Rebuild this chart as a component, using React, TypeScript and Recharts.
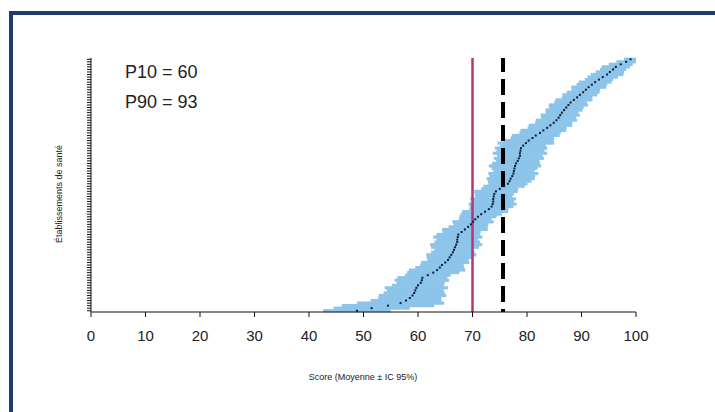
import {
  ComposedChart,
  Bar,
  Line,
  XAxis,
  YAxis,
  ReferenceLine,
} from 'recharts'

// establishments sorted by score, lowest first
const means = [
  48.8, 51.5, 54.5, 56.8, 57.8, 58.5, 59.0, 59.3, 59.5, 59.7,
  60.0, 60.5, 60.7, 60.8, 61.8, 62.8, 63.5, 64.0, 64.4, 65.0,
  65.5, 65.8, 66.1, 66.4, 66.6, 66.8, 67.0, 67.2, 67.2, 67.3,
  67.4, 68.0, 68.6, 69.2, 69.7, 70.1, 70.5, 71.0, 71.6, 72.3,
  73.0, 73.5, 73.7, 73.8, 73.8, 73.9, 74.0, 74.3, 75.0, 75.8,
  76.5, 76.8, 77.0, 77.3, 77.5, 77.6, 77.7, 77.8, 78.0, 78.3,
  78.5, 78.7, 78.7, 78.8, 78.9, 79.3, 79.8, 80.3, 81.0, 81.6,
  82.4, 83.0, 83.7, 84.3, 84.9, 85.4, 85.8, 86.1, 86.4, 86.8,
  87.2, 87.6, 88.0, 88.6, 89.2, 89.7, 90.3, 90.8, 91.3, 91.9,
  92.5, 93.2, 93.9, 94.7, 95.2, 95.8, 96.3, 97.2, 98.2, 99.0,
]

// half width of the 95% CI
const halfCI = [
  6.2, 7.0, 8.5, 8.0, 6.5, 5.8, 6.2, 5.6, 5.2, 5.8,
  4.8, 4.4, 5.0, 4.6, 4.2, 4.8, 5.2, 4.5, 4.0, 4.4,
  3.8, 4.2, 4.6, 4.0, 3.6, 4.4, 4.8, 4.2, 3.8, 4.5,
  4.0, 3.5, 4.2, 3.6, 3.2, 3.8, 3.0, 3.4, 3.8, 4.2,
  3.6, 4.0, 4.4, 3.8, 4.2, 3.4, 3.6, 4.0, 3.4, 3.8,
  3.6, 4.0, 4.4, 4.2, 4.6, 3.8, 4.2, 4.8, 4.4, 4.0,
  4.6, 4.2, 5.0, 4.4, 4.8, 4.2, 5.2, 4.6, 4.0, 4.4,
  3.8, 4.2, 3.6, 4.0, 3.4, 3.8, 3.2, 3.6, 3.0, 3.4,
  3.2, 3.6, 3.0, 3.4, 2.8, 3.2, 3.0, 2.6, 3.2, 2.8,
  3.0, 2.6, 2.8, 3.0, 2.6, 2.4, 2.6, 2.2, 1.8, 1.2,
]

const xTicks = [0, 10, 20, 30, 40, 50, 60, 70, 80, 90, 100]
const threshold = 70
const overallMean = 75.6

const data = means.map((m, i) => ({
  rank: i + 1,
  mean: m,
  ci: [m - halfCI[i], m + halfCI[i]],
}))

const font = '"Liberation Sans", Arial, sans-serif'

const MeanMark = (props: any) => {
  const { cx, cy } = props
  if (cx == null || cy == null) return null
  return <rect x={cx - 1} y={cy - 1} width={2} height={2} fill="#0e1c3c" />
}

// CI bar, a little thicker than its band so rows merge into one strip
const CiBar = (props: any) => {
  const { x, y, width, height } = props
  if (x == null || y == null) return null
  const mid = y + height / 2
  return <rect x={x} y={mid - 1.6} width={width} height={3.2} fill="#8dc4ea" />
}

export default function App() {
  return (
    <div
      style={{
        position: 'absolute',
        left: 0,
        top: 0,
        width: 715,
        height: 412,
        background: '#fff',
        overflow: 'hidden',
        fontFamily: font,
      }}
    >
      <div style={{ position: 'absolute', left: 9, top: 11, width: 706, height: 4, background: '#1f3d6b' }} />
      <div style={{ position: 'absolute', left: 9, top: 11, width: 4, height: 401, background: '#1f3d6b' }} />

      <div style={{ position: 'absolute', left: 0, top: 0 }}>
        <ComposedChart
          width={715}
          height={412}
          data={data}
          layout="vertical"
          margin={{ top: 58, right: 79, bottom: 70, left: 71 }}
        >
          <XAxis
            type="number"
            domain={[0, 100]}
            ticks={xTicks}
            allowDataOverflow
            height={30}
            stroke="#111"
            tickSize={5}
            tickMargin={13}
            tick={{ fill: '#222', fontSize: 15, fontFamily: font }}
          />
          <YAxis
            type="category"
            dataKey="rank"
            reversed
            interval={0}
            width={20}
            stroke="#111"
            tickSize={4}
            tickFormatter={() => ''}
          />
          <Bar dataKey="ci" fill="#8dc4ea" shape={<CiBar />} isAnimationActive={false} />
          <Line
            dataKey="mean"
            stroke="none"
            dot={<MeanMark />}
            activeDot={false}
            isAnimationActive={false}
          />
          <ReferenceLine x={threshold} stroke="#b8356f" strokeWidth={2.5} />
          <ReferenceLine
            x={overallMean}
            stroke="#000"
            strokeWidth={4}
            strokeDasharray="3 7 16 7 16 7 16 7 16 7 16 7 16 7 16 7 16 7 16 7 16 7 16 7 16 7 16 7"
          />
        </ComposedChart>
      </div>

      <div style={{ position: 'absolute', left: 125, top: 62, fontSize: 18, color: '#222' }}>P10 = 60</div>
      <div style={{ position: 'absolute', left: 125, top: 92, fontSize: 18, color: '#222' }}>P90 = 93</div>

      <div
        style={{
          position: 'absolute',
          left: 59,
          top: 194,
          transform: 'translate(-50%, -50%) rotate(-90deg)',
          fontSize: 9,
          color: '#222',
          whiteSpace: 'nowrap',
        }}
      >
        Établissements de santé
      </div>
      <div
        style={{
          position: 'absolute',
          left: 363,
          top: 377,
          transform: 'translate(-50%, -50%)',
          fontSize: 9,
          color: '#222',
          whiteSpace: 'nowrap',
        }}
      >
        Score (Moyenne ± IC 95%)
      </div>
    </div>
  )
}
